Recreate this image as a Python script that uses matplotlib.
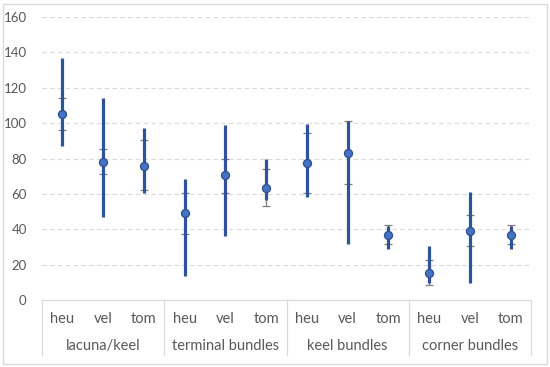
import matplotlib.pyplot as plt
from matplotlib.patches import Rectangle
import numpy as np

# --- Data ---
groups = ["lacuna/keel", "terminal bundles", "keel bundles", "corner bundles"]
subs = ["heu", "vel", "tom"]

means = [105, 78, 76, 49, 70.5, 63.5, 77.5, 83, 37, 15.5, 39, 37]
sd_hi = [114, 85.5, 90.5, 60.5, 80, 74, 94.5, 101, 42.5, 22.5, 48, 42.5]
sd_lo = [96, 71, 62, 37.5, 60.5, 53, 60.5, 65.5, 31.5, 8.5, 30.5, 31.5]
mins = [87, 47, 60.5, 13.5, 36, 56.5, 58, 31.5, 29, 9.5, 9.5, 29]
maxs = [137, 114, 97.5, 68.5, 99, 79.5, 99.5, 101, 42, 30.5, 61, 42]

# --- Styles ---
LINE_BLUE = "#2F539B"
MARK_BLUE = "#4472C4"
ERR_GREY = "#7F7F7F"
GRID = "#D9D9D9"
TXT = "#595959"

plt.rcParams["font.family"] = ["Lato", "DejaVu Sans"]

fig = plt.figure(figsize=(5.5, 3.67), dpi=100)
ax = fig.add_axes([42 / 550, 1 - 300 / 367, 489 / 550, 283 / 367])

x = np.arange(len(means))
means = np.array(means)
# SD bars sit behind the min-max line, only caps / overhang show
ax.errorbar(x, means, yerr=[means - np.array(sd_lo), np.array(sd_hi) - means],
            fmt="none", ecolor=ERR_GREY, elinewidth=0.9, capsize=3, capthick=0.9, zorder=2)
ax.vlines(x, mins, maxs, color=LINE_BLUE, lw=2.3, zorder=3)
ax.plot(x, means, "o", ms=5.8, mfc=MARK_BLUE, mec="#2F4F8F", mew=0.9, ls="none", zorder=5)

ax.set_xlim(-0.5, len(means) - 0.5)
ax.set_ylim(0, 160)
ax.set_yticks(range(0, 161, 20))
ax.yaxis.grid(True, color=GRID, ls=(0, (4, 3)), lw=0.8)
ax.set_axisbelow(True)
ax.tick_params(axis="y", length=0, pad=11, labelsize=9.5, labelcolor=TXT)
ax.set_xticks([])
for s in ["top", "right", "left"]:
    ax.spines[s].set_visible(False)
ax.spines["bottom"].set_color(GRID)

# two-row category axis
trans = ax.get_xaxis_transform()
sep_bot = -(355 - 300) / 283
for b in [-0.5, 2.5, 5.5, 8.5, 11.5]:
    ax.plot([b, b], [0, sep_bot], color=GRID, lw=0.9, transform=trans, clip_on=False)
for i in range(len(means)):
    ax.text(i, -(319 - 300) / 283, subs[i % 3], transform=trans, ha="center", va="center",
            fontsize=10.5, color=TXT)
for g, name in enumerate(groups):
    ax.text(3 * g + 1, -(346 - 300) / 283, name, transform=trans, ha="center", va="center",
            fontsize=10.5, color=TXT)

# chart border
fig.add_artist(Rectangle((3 / 550, 3 / 367), 544 / 550, 360 / 367, transform=fig.transFigure,
                         fill=False, ec=GRID, lw=1))

fig.savefig("out.png", dpi=100)
